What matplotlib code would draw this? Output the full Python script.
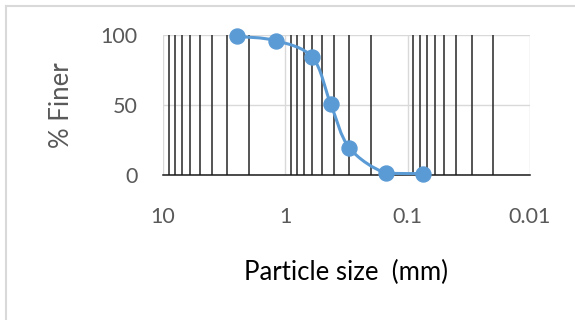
import matplotlib
matplotlib.use("Agg")
import matplotlib.pyplot as plt
import numpy as np
from matplotlib.path import Path
from matplotlib.patches import PathPatch
from matplotlib.ticker import FixedLocator, FixedFormatter, NullFormatter

plt.rcParams['font.family'] = ['Lato', 'DejaVu Sans']

# Data
particle_size_mm = [2.5, 1.2, 0.6, 0.425, 0.3, 0.15, 0.075]
percent_finer = [99, 96, 84, 50.5, 19.5, 1.2, 1.0]
x_tick_values = [10, 1, 0.1, 0.01]
x_tick_labels = ["10", "1", "0.1", "0.01"]
y_tick_values = [0, 50, 100]
y_tick_labels = ["0", "50", "100"]

blue = "#5B9BD5"
gray_text = "#595959"
grid_light = "#D9D9D9"

fig = plt.figure(figsize=(5.75, 3.2), dpi=100)
fig.patch.set_facecolor("white")

# outer chart border (top and left visible)
fig.add_artist(plt.Line2D([5.5 / 575, 1.0], [1 - 5.5 / 320, 1 - 5.5 / 320],
                          transform=fig.transFigure, color=grid_light, lw=1.5))
fig.add_artist(plt.Line2D([5.5 / 575, 5.5 / 575], [0.0, 1 - 5.5 / 320],
                          transform=fig.transFigure, color=grid_light, lw=1.5))

ax = fig.add_axes([163 / 575, 1 - 175 / 320, (530 - 163) / 575, 140 / 320])
ax.set_xscale("log")
ax.set_xlim(10, 0.01)
ax.set_ylim(0, 100)

# grid lines
minor = []
for dec in [1, 0.1, 0.01]:
    for k in range(2, 10):
        minor.append(k * dec)
for m in minor:
    ax.axvline(m, color="#2e2e2e", lw=1.15, zorder=1)
for M in x_tick_values:
    ax.axvline(M, color=grid_light, lw=1.0, zorder=0.5)
for yv in y_tick_values:
    ax.axhline(yv, color=grid_light, lw=1.0, zorder=0.5)

for s in ["left", "right", "top"]:
    ax.spines[s].set_visible(False)
ax.spines["bottom"].set_color("#1a1a1a")
ax.spines["bottom"].set_linewidth(1.1)
ax.spines["bottom"].set_zorder(2)

ax.xaxis.set_major_locator(FixedLocator(x_tick_values))
ax.xaxis.set_major_formatter(FixedFormatter(x_tick_labels))
ax.xaxis.set_minor_locator(FixedLocator(minor))
ax.xaxis.set_minor_formatter(NullFormatter())
ax.set_yticks(y_tick_values)
ax.set_yticklabels(y_tick_labels)
ax.tick_params(axis="both", which="both", length=0, labelsize=15.5, labelcolor=gray_text)
ax.tick_params(axis="x", pad=23)
ax.tick_params(axis="y", pad=18.5)

# smoothed line (Catmull-Rom style Bezier in log-x space, clamped to avoid overshoot)
u = np.log10(np.array(particle_size_mm, dtype=float))
v = np.array(percent_finer, dtype=float)
n = len(u)
verts = [(10 ** u[0], v[0])]
codes = [Path.MOVETO]
for i in range(n - 1):
    p0 = max(i - 1, 0)
    p3 = min(i + 2, n - 1)
    lo, hi = min(v[i], v[i + 1]), max(v[i], v[i + 1])
    c1u = u[i] + (u[i + 1] - u[p0]) / 6
    c1v = np.clip(v[i] + (v[i + 1] - v[p0]) / 6, lo, hi)
    c2u = u[i + 1] - (u[p3] - u[i]) / 6
    c2v = np.clip(v[i + 1] - (v[p3] - v[i]) / 6, lo, hi)
    verts += [(10 ** c1u, c1v), (10 ** c2u, c2v), (10 ** u[i + 1], v[i + 1])]
    codes += [Path.CURVE4, Path.CURVE4, Path.CURVE4]
path = Path(verts, codes)
ax.add_patch(PathPatch(path, facecolor="none", edgecolor=blue, lw=2.2,
                       zorder=3, clip_on=False, capstyle="round", joinstyle="round"))
ax.plot(particle_size_mm, percent_finer, linestyle="none", marker="o",
        markersize=10.8, color=blue, zorder=4, clip_on=False)

ax.set_ylabel("% Finer", fontsize=18.5, color=gray_text, labelpad=19)
ax.set_xlabel("Particle size  (mm)", fontsize=18.5, color="black", labelpad=24)

fig.savefig("out.png", dpi=100, facecolor="white")
